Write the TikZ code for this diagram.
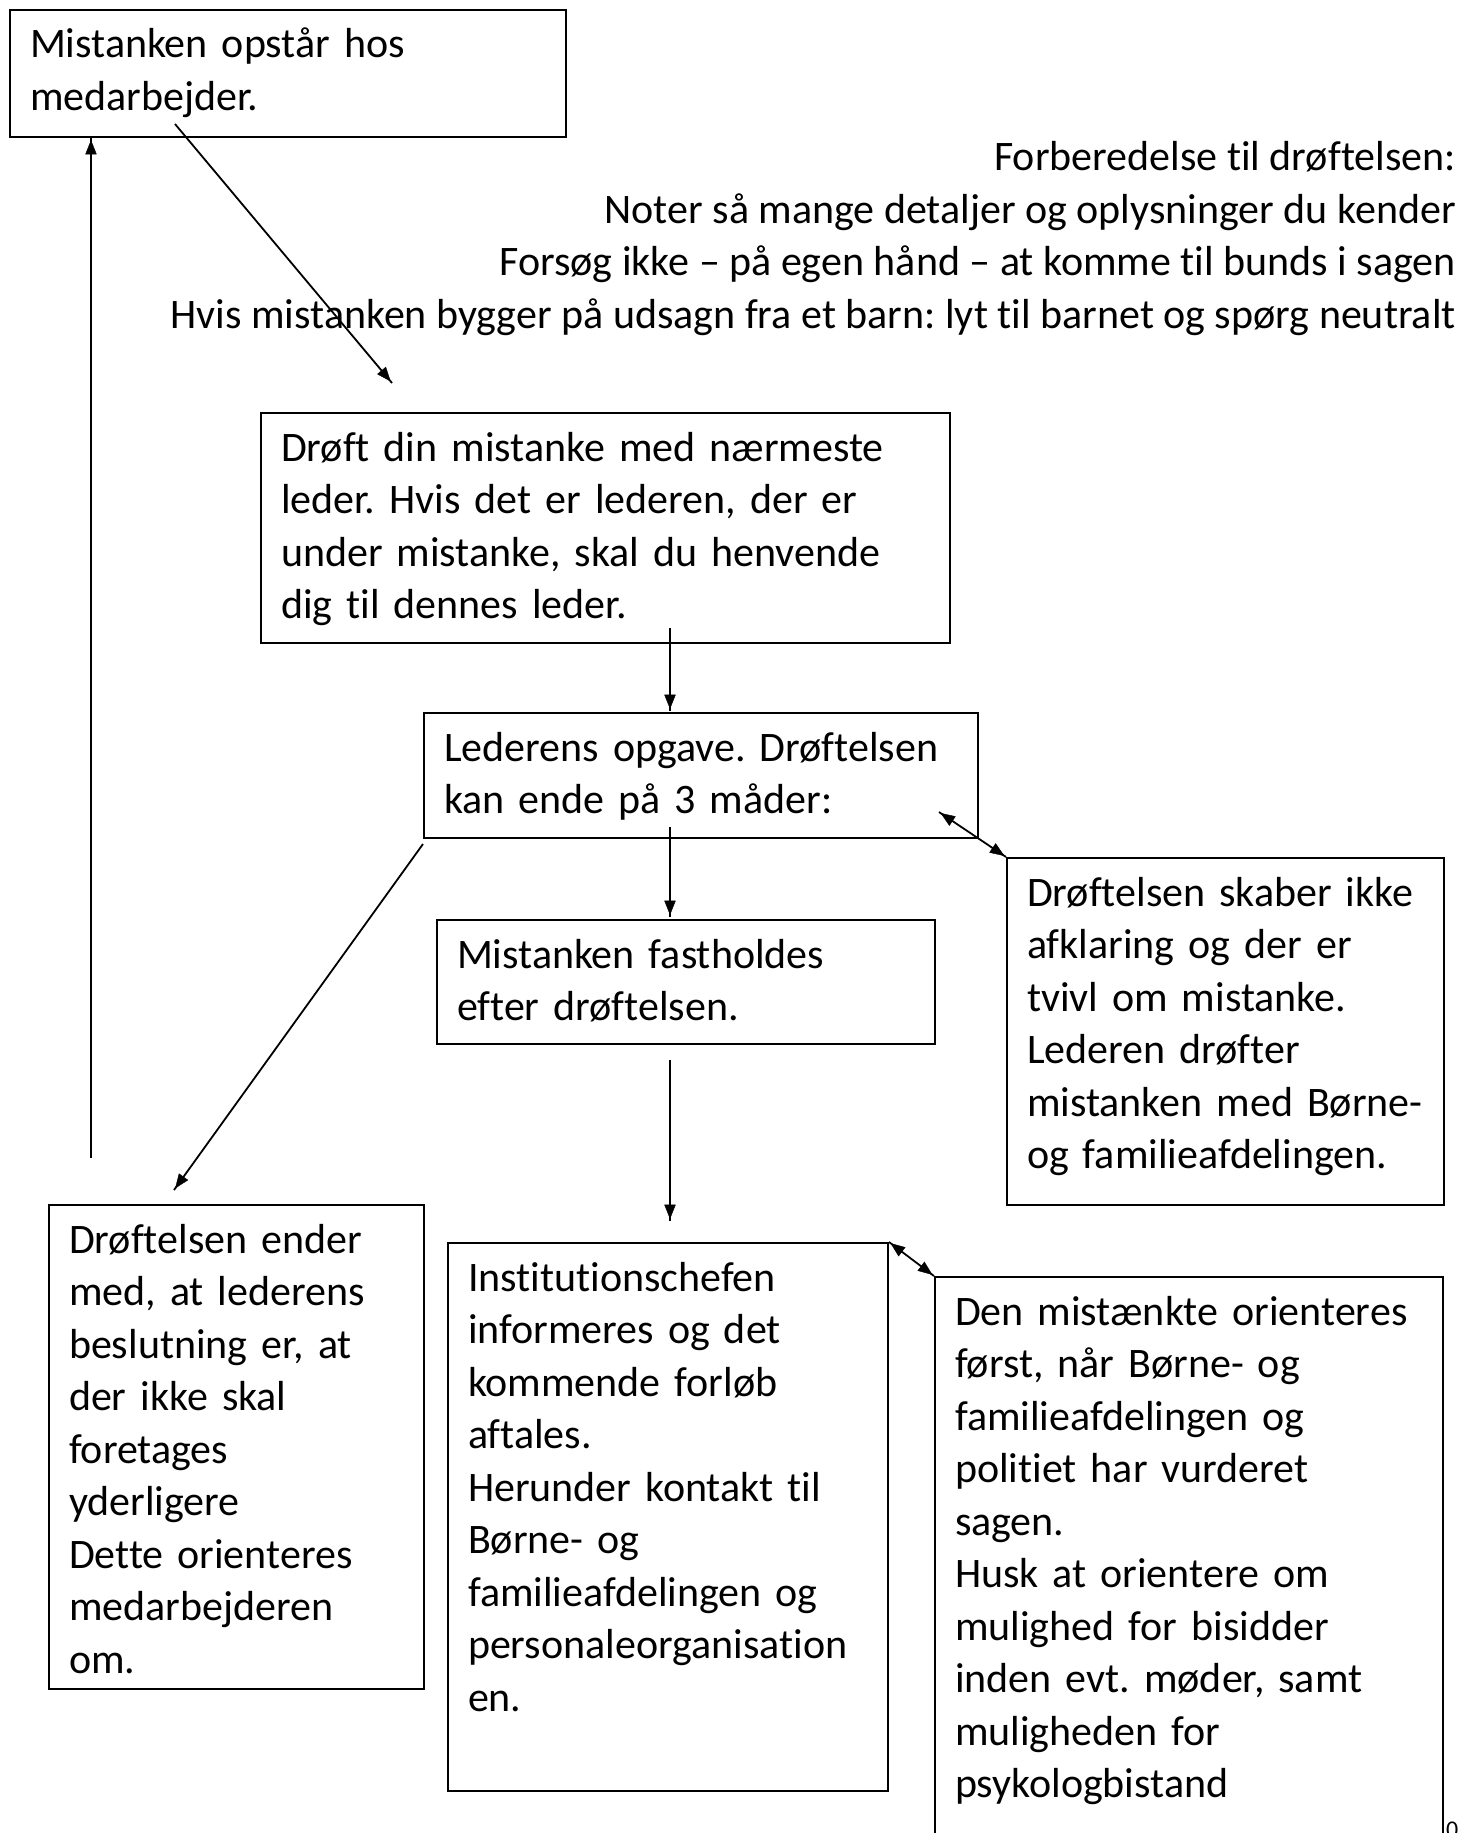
\documentclass[tikz,border=0pt]{standalone}
\usepackage{fontspec}
\setmainfont{Carlito}[Ligatures=NoCommon]
\usetikzlibrary{positioning, calc, arrows.meta, decorations.markings}
\hyphenpenalty=10000
\frenchspacing
\tikzstyle{Box} = [
draw, line width=2pt,
anchor=north west, align=left,
inner xsep=20pt, inner ysep=0pt,
text height=48pt]
\tikzstyle{Arrow} = [
line width=1.8pt,
decoration={
markings,
mark=at position 0.9999 with {
\arrow{Triangle[length=17pt,width=13pt]}}},
preaction = {decorate}]
\tikzstyle{DArrow} = [
line width=1.8pt,
decoration={
markings,
mark=at position 0.0001 with {
\arrowreversed{Triangle[length=17pt,width=13pt]}},
mark=at position 0.9999 with {
\arrow{Triangle[length=17pt,width=13pt]}}},
preaction = {decorate}]

\begin{document}
\begin{tikzpicture}[x=1pt, y=-1pt, font=\fontsize{42}{52.5}\selectfont]
    \useasboundingbox (0,0) rectangle (1472,1833);

    \node [Box, text width=516pt, text depth=79pt] (1) at (9,9)
        {Mistanken opstår hos\\medarbejder.};
    \node [anchor=base east, align=right, inner sep=0pt] (2) at (1456,328)
        {Forberedelse til drøftelsen:\\
         Noter så mange detaljer og oplysninger du kender\\
         Forsøg ikke – på egen hånd – at komme til bunds i sagen\\
         Hvis mistanken bygger på udsagn fra et barn: lyt til barnet og spørg neutralt};
    \node [Box, text width=649pt, text depth=182pt] (3) at (260,412)
        {Drøft din mistanke med nærmeste\\leder. Hvis det er lederen, der er\\
         under mistanke, skal du henvende\\dig til dennes leder.};
    \node [Box, text width=514pt, text depth=77pt] (4) at (423,712)
        {Lederens opgave. Drøftelsen\\kan ende på 3 måder:};
    \node [Box, text width=458pt, text depth=76pt] (5) at (436,919)
        {Mistanken fastholdes\\efter drøftelsen.};
    \node [Box, text width=397pt, text depth=299pt] (6) at (1006,857)
        {Drøftelsen skaber ikke\\afklaring og der er\\tvivl om mistanke.\\
         Lederen drøfter\\mistanken med Børne-\\og familieafdelingen.};
    \node [Box, text width=335pt, text depth=436pt] (7) at (48,1204)
        {Drøftelsen ender\\med, at lederens\\beslutning er, at\\der ikke skal\\
         foretages\\yderligere\\Dette orienteres\\medarbejderen\\om.};
    \node [Box, text width=400pt, text depth=500pt] (8) at (447,1242)
        {Institutionschefen\\informeres og det\\kommende forløb\\aftales.\\
         Herunder kontakt til\\Børne- og\\familieafdelingen og\\
         personaleorganisation\\en.};
    \node [Box, text width=468pt, text depth=536pt] (9) at (934,1276)
        {Den mistænkte orienteres\\først, når Børne- og\\familieafdelingen og\\
         politiet har vurderet\\sagen.\\Husk at orientere om\\mulighed for bisidder\\
         inden evt. møder, samt\\muligheden for\\psykologbistand};
    \node [anchor=north west, inner sep=0pt, font=\fontsize{24}{28}\selectfont] (10) at (1446,1822) {0};

    \draw[Arrow] ([shift={(166,-14)}]1.south west) -- ([shift={(132,-29)}]3.north west);
    \draw[Arrow] ([shift={(410,-16)}]3.south west) -- ([shift={(247,-1)}]4.north west);
    \draw[Arrow] ([shift={(247,-12)}]4.south west) -- ([shift={(234,-2)}]5.north west);
    \draw[Arrow] ([shift={(234,15)}]5.south west) -- ([shift={(223,-21)}]8.north west);
    \draw[DArrow] ([shift={(-40,-27)}]4.south east) -- (6.north west);
    \draw[DArrow] (8.north east) -- (9.north west);
    \draw[Arrow] ([shift={(0,5)}]4.south west) -- ([shift={(126,-14)}]7.north west);
    \draw[Arrow] ([shift={(43,-46)}]7.north west) -- ([shift={(82,0)}]1.south west);
\end{tikzpicture}
\end{document}
